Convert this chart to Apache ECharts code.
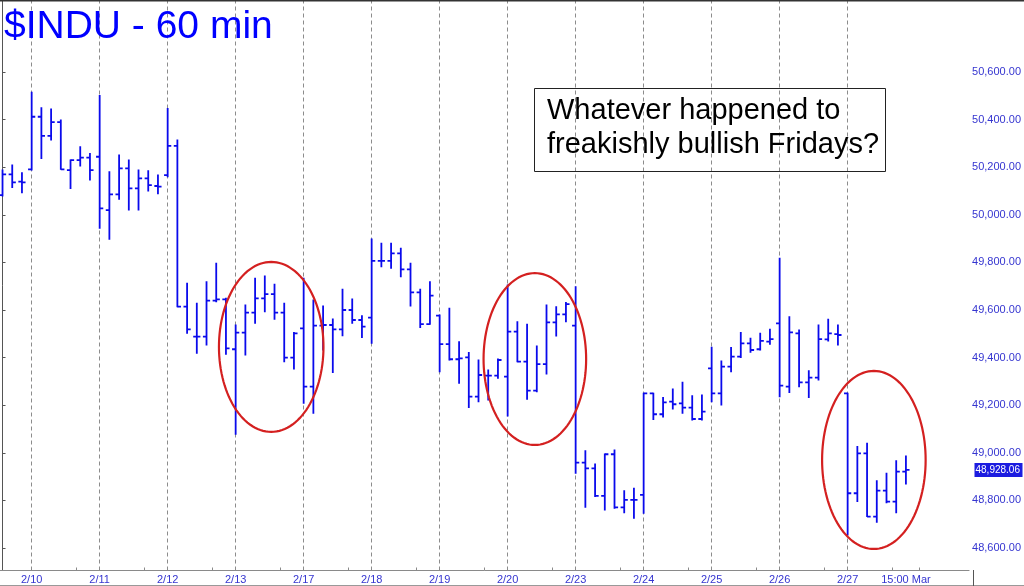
<!DOCTYPE html>
<html><head><meta charset="utf-8">
<script src="https://cdn.jsdelivr.net/npm/echarts@6.0.0/dist/echarts.min.js"></script>
<style>html,body{margin:0;padding:0;background:#fff}#c{width:1024px;height:586px}</style>
</head><body><div id="c"></div>
<script>
// ---- data ----
const days = ['2/9','2/10','2/11','2/12','2/13','2/17','2/18','2/19','2/20','2/23','2/24','2/25','2/26','2/27'];
const hours = ['9:30','10:30','11:30','12:30','13:30','14:30','15:30'];
const openVals = [
50083,50170,50139,
50191,50412,50332,50389,50188,50230,50240,
50244,50020,50086,50195,50111,50153,50121,
50167,50290,49614,49488,49488,49639,49645,
49435,49505,49589,49649,49667,49589,49400,
49523,49278,49534,49537,49519,49600,49558,
49568,49806,49806,49838,49771,49674,49541,
49576,49457,49393,49401,49236,49324,49324,
49320,49509,49383,49261,49373,49548,49582,
49534,48959,48935,48819,48994,48771,48802,
48823,49250,49162,49215,49208,49190,49142,
49355,49250,49362,49404,49460,49435,49467,
49544,49278,49502,49296,49316,49477,49499,
49250,48830,48998,48732,48841,48795,48921];
const highVals = [
50188,50209,50177,
50515,50450,50445,50398,50230,50286,50258,
50501,50181,50251,50230,50188,50185,50167,
50447,50314,49712,49628,49719,49796,49649,
49537,49621,49733,49743,49708,49628,49505,
49733,49642,49617,49562,49687,49646,49576,
49898,49880,49880,49859,49796,49687,49719,
49579,49607,49467,49421,49390,49348,49394,
49705,49551,49540,49449,49621,49614,49631,
49698,49009,48953,48995,49012,48841,48851,
49250,49250,49232,49268,49296,49240,49243,
49443,49386,49442,49506,49481,49502,49519,
49817,49572,49516,49345,49537,49561,49537,
49250,49026,49040,48883,48914,48967,48987];
const lowVals = [
50079,50115,50093,
50188,50237,50314,50191,50111,50205,50146,
49943,49897,50065,50020,50020,50100,50088,
50160,49614,49502,49418,49453,49635,49414,
49078,49411,49544,49593,49561,49383,49352,
49208,49166,49432,49337,49492,49544,49484,
49460,49782,49775,49740,49617,49526,49540,
49341,49390,49292,49190,49215,49222,49313,
49155,49383,49225,49257,49331,49491,49551,
48914,48771,48816,48760,48767,48748,48725,
48746,49140,49150,49184,49166,49138,49138,
49215,49201,49341,49400,49422,49432,49456,
49236,49253,49278,49232,49306,49470,49453,
48655,48795,48732,48708,48790,48748,48869];
const closeVals = [
50170,50136,50136,
50412,50332,50389,50191,50230,50240,50188,
50027,50086,50195,50111,50153,50125,50118,
50290,49614,49519,49488,49639,49645,49439,
49505,49589,49649,49667,49589,49400,49502,
49278,49534,49537,49519,49600,49558,49530,
49806,49806,49838,49771,49674,49541,49660,
49457,49393,49397,49236,49327,49324,49390,
49509,49383,49261,49373,49548,49582,49625,
48959,48935,48819,48994,48771,48802,48802,
49250,49162,49212,49204,49190,49142,49173,
49250,49362,49404,49460,49432,49470,49478,
49282,49506,49296,49316,49478,49502,49495,
48830,48998,48732,48841,48795,48921,48928.06];
const xLabels = ['2/10','2/11','2/12','2/13','2/17','2/18','2/19','2/20','2/23','2/24','2/25','2/26','2/27','15:00 Mar'];
const xLabelPos = [3,10,17,24,31,38,45,52,59,66,73,80,87,93];
const dayStarts = [3,10,17,24,31,38,45,52,59,66,73,80,87];
const xMinorTicks = [7.6,14.6,21.6,28.6,35.6,42.6,49.6,56.6,63.6,70.6,77.6,84.6,91.6,94.4];
const yTicks = [48600,48800,49000,49200,49400,49600,49800,50000,50200,50400,50600];
const lastPrice = 48928.06;
const titleText = '$INDU - 60 min';
const noteLines = ['Whatever happened to','freakishly bullish Fridays?'];
// annotation ellipses in data units (bar index, price)
const circles = [
  {cx:27.66, cy:49445, rx:5.38, ry:357},
  {cx:54.8,  cy:49394, rx:5.28, ry:361},
  {cx:89.7,  cy:48970, rx:5.33, ry:374}
];

// ---- build ----
const barTimes = [];
barTimes.push(days[0]+' '+hours[4], days[0]+' '+hours[5], days[0]+' '+hours[6]);
for (let d = 1; d < days.length; d++) for (const h of hours) barTimes.push(days[d]+' '+h);
const seriesData = openVals.map((o, i) => [i, o, highVals[i], lowVals[i], closeVals[i], barTimes[i]]);

const BLUE = '#0a0aec';
const FONT = 'Liberation Sans, Arial, sans-serif';
const fmt = v => v.toLocaleString('en-US', {minimumFractionDigits:2, maximumFractionDigits:2});

function renderItem(params, api) {
  const i = api.value(0);
  const pH = api.coord([i, api.value(2)]);
  const pL = api.coord([i, api.value(3)]);
  const pO = api.coord([i, api.value(1)]);
  const pC = api.coord([i, api.value(4)]);
  const x = pH[0];
  const t = 3.6;
  const st = {stroke: BLUE, lineWidth: 1.8};
  return {type:'group', children:[
    {type:'line', shape:{x1:x, y1:pH[1]-0.5, x2:x, y2:pL[1]+0.5}, style:st},
    {type:'line', shape:{x1:x-t, y1:pO[1], x2:x, y2:pO[1]}, style:st},
    {type:'line', shape:{x1:x, y1:pC[1], x2:x+t, y2:pC[1]}, style:st}
  ]};
}

const chart = echarts.init(document.getElementById('c'), null, {renderer:'canvas'});
const option = {
  animation: false,
  backgroundColor: '#ffffff',
  title: {text: titleText, left: -1, top: 3, textStyle: {color:'#0000ff', fontSize: 39, fontWeight:'normal', fontFamily: FONT}},
  grid: {left: 0, right: 50.5, top: 0, bottom: 15.5, containLabel: false},
  xAxis: {
    type: 'value', min: -0.26, max: 99.5,
    axisLine: {show:true, lineStyle:{color:'#8a8a8a', width:1}},
    axisTick: {show:true, customValues: xMinorTicks, inside:true, length:3, lineStyle:{color:'#8a8a8a'}},
    axisLabel: {customValues: xLabelPos, formatter: v => { const k = xLabelPos.indexOf(v); return k >= 0 ? xLabels[k] : ''; },
                color:'#3535d0', fontSize: 11, fontFamily: FONT, margin: 4},
    splitLine: {show:false}
  },
  yAxis: {
    type: 'value', position: 'right', min: 48505.5, max: 50902.5,
    axisLine: {show:true, lineStyle:{color:'#555', width:1}},
    axisTick: {show:true, customValues: yTicks, length: 3, lineStyle:{color:'#555'}},
    axisLabel: {customValues: yTicks, formatter: fmt, color:'#3535d0', fontSize: 11, fontFamily: FONT, margin: 3},
    splitLine: {show:false}
  },
  series: [{
    type: 'line', data: [], z: 1, silent: true,
    markLine: {
      silent: true, symbol: 'none', animation: false, z: 1,
      label: {show: false},
      lineStyle: {type:[4,3], color:'#8c8c8c', width:1},
      data: dayStarts.map(v => ({xAxis: v}))
    }
  }, {
    type: 'custom', renderItem: renderItem, data: seriesData, z: 5,
    encode: {x: 0, y: [1,2,3,4]},
    clip: true
  }]
};
chart.setOption(option);

// annotation graphics computed through the chart's scales
const graphics = [];
graphics.push({type:'line', shape:{x1:0, y1:0.75, x2:1024, y2:0.75}, style:{stroke:'#333', lineWidth:1.5}, z: 100});
graphics.push({type:'line', shape:{x1:0, y1:585.5, x2:1024, y2:585.5}, style:{stroke:'#999', lineWidth:1}, z: 100});
graphics.push({type:'line', shape:{x1:973.5, y1:570, x2:973.5, y2:586}, style:{stroke:'#555', lineWidth:1}, z: 100});
circles.forEach(c => {
  const p = chart.convertToPixel({gridIndex:0}, [c.cx, c.cy]);
  const px = chart.convertToPixel({gridIndex:0}, [c.cx + c.rx, c.cy + c.ry]);
  const rx = Math.abs(px[0] - p[0]), ry = Math.abs(p[1] - px[1]);
  const pts = [];
  for (let k = 0; k < 120; k++) { const a = k / 120 * Math.PI * 2; pts.push([p[0] + rx*Math.cos(a), p[1] + ry*Math.sin(a)]); }
  graphics.push({type:'polygon', shape:{points: pts}, style:{fill:'none', stroke:'#d42020', lineWidth:2.2}, z: 100});
});
graphics.push({type:'rect', shape:{x:534.5, y:88.5, width:351, height:83}, style:{fill:'none', stroke:'#222', lineWidth:1}, z: 100});
graphics.push({type:'text', x:547, y:94, style:{text: noteLines.join('\n'), font:'29px ' + FONT, lineHeight: 34, fill:'#000'}, z: 100});
// last price tag on the value axis
const lp = chart.convertToPixel({gridIndex:0}, [0, lastPrice]);
graphics.push({type:'rect', shape:{x:974.5, y:lp[1]-7, width:48, height:14}, style:{fill:'#1c1ce0'}, z: 100});
graphics.push({type:'text', x:975.5, y:lp[1], style:{text: fmt(lastPrice), font:'10px ' + FONT, fill:'#fff', textVerticalAlign:'middle'}, z: 101});
chart.setOption({graphic: graphics});
</script></body></html>
